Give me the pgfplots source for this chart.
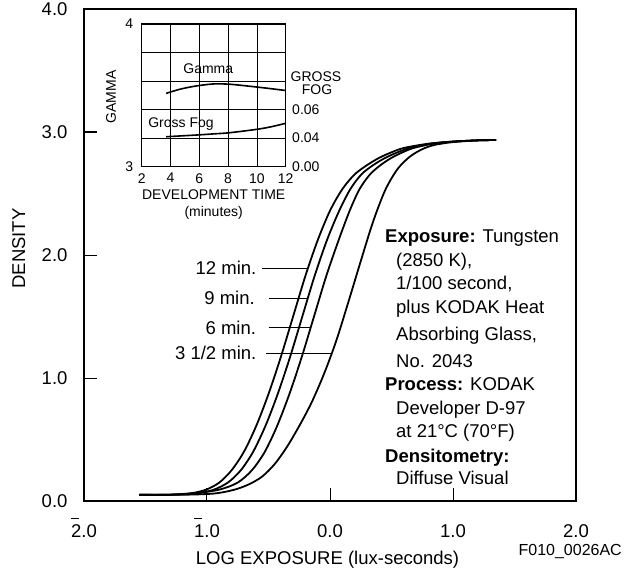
\documentclass[border=0pt]{standalone}
\usepackage{pgfplots}
\pgfplotsset{compat=1.18}
\usepackage{fontspec}
\setmainfont{Liberation Sans}
\pgfplotsset{/pgf/number format/assume math mode=true}
\newcommand\mainfs{\fontsize{18.5}{22}\selectfont}
\newcommand\insetfs{\fontsize{14}{16}\selectfont}
% digit with a bar over it (negative characteristic)
\newcommand\negd[1]{\rlap{\rule[18pt]{8pt}{1.1pt}}#1}

\begin{document}
\begin{tikzpicture}
\useasboundingbox (-84pt,-70pt) rectangle (540pt,501pt);

% main characteristic curves
\begin{axis}[
  at={(0pt,0pt)}, anchor=south west,
  width=492pt, height=492pt, scale only axis,
  xmin=-2, xmax=2, ymin=0, ymax=4,
  xtick={-2,-1,0,1,2},
  xticklabels={\negd{2}.0,\negd{1}.0,0.0,1.0,2.0},
  ytick={0,1,2,3,4},
  yticklabels={0.0,1.0,2.0,3.0,4.0},
  tick align=inside, xtick pos=bottom, ytick pos=left,
  major tick length=13pt,
  axis line style={line width=1.2pt},
  tick style={line width=1pt, black},
  x tick label style={font=\mainfs, anchor=base, yshift=-36pt},
  y tick label style={font=\mainfs, anchor=east, xshift=-13pt},
  xlabel={LOG EXPOSURE (lux-seconds)},
  ylabel={DENSITY},
  xlabel style={font=\mainfs, at={(axis description cs:0.495,0)}, anchor=base, yshift=-63pt},
  ylabel style={font=\mainfs, at={(axis description cs:-0.1199,0.513)}, anchor=base},
  curve/.style={black, no markers, smooth, line width=1.8pt},
  leader/.style={black, no markers, sharp plot, line width=0.9pt},
]
% 12 min
\addplot[curve] coordinates {
  (-1.55,0.05) (-1.35,0.05) (-1.2,0.057) (-1.1,0.068) (-1.0,0.095) (-0.9,0.15)
  (-0.8,0.25) (-0.7,0.40) (-0.6,0.61) (-0.5,0.87) (-0.4,1.17) (-0.3,1.50)
  (-0.2,1.83) (-0.1,2.12) (0,2.36) (0.1,2.535) (0.2,2.655) (0.3,2.73)
  (0.4,2.79) (0.5,2.835) (0.6,2.87) (0.8,2.905) (1.0,2.922) (1.2,2.932) (1.35,2.935)};
% 9 min
\addplot[curve] coordinates {
  (-1.55,0.05) (-1.35,0.05) (-1.2,0.055) (-1.08,0.063) (-0.95,0.09) (-0.83,0.15)
  (-0.725,0.25) (-0.625,0.40) (-0.525,0.61) (-0.425,0.87) (-0.325,1.17) (-0.225,1.50)
  (-0.125,1.83) (-0.025,2.12) (0.075,2.36) (0.165,2.535) (0.255,2.655) (0.35,2.73)
  (0.45,2.79) (0.55,2.835) (0.65,2.87) (0.82,2.905) (1.0,2.922) (1.2,2.932) (1.35,2.935)};
% 6 min
\addplot[curve] coordinates {
  (-1.55,0.05) (-1.35,0.05) (-1.2,0.055) (-1.05,0.068) (-0.89,0.095) (-0.75,0.15)
  (-0.635,0.25) (-0.53,0.40) (-0.43,0.61) (-0.33,0.87) (-0.23,1.17) (-0.13,1.50)
  (-0.03,1.83) (0.07,2.12) (0.16,2.36) (0.24,2.535) (0.325,2.655) (0.41,2.73)
  (0.5,2.79) (0.59,2.835) (0.68,2.87) (0.84,2.905) (1.0,2.922) (1.2,2.932) (1.35,2.935)};
% 3 1/2 min
\addplot[curve] coordinates {
  (-1.55,0.05) (-1.3,0.05) (-1.1,0.053) (-0.95,0.06) (-0.85,0.075) (-0.75,0.10)
  (-0.65,0.14) (-0.55,0.20) (-0.45,0.30) (-0.35,0.44) (-0.25,0.61) (-0.15,0.80)
  (-0.05,1.03) (0.05,1.30) (0.15,1.62) (0.25,1.95) (0.35,2.27) (0.45,2.53)
  (0.55,2.70) (0.65,2.80) (0.75,2.86) (0.85,2.895) (1.0,2.918) (1.2,2.932) (1.35,2.935)};

% leader lines
\addplot[leader] coordinates {(-0.55,1.894) (-0.178,1.894)};
\addplot[leader] coordinates {(-0.50,1.650) (-0.18,1.650)};
\addplot[leader] coordinates {(-0.50,1.407) (-0.158,1.407)};
\addplot[leader] coordinates {(-0.52,1.203) (0.014,1.203)};

\node[font=\mainfs, anchor=east, inner sep=0pt] at (axis cs:-0.597,1.894) {12 min.};
\node[font=\mainfs, anchor=east, inner sep=0pt] at (axis cs:-0.61,1.650) {9 min.};
\node[font=\mainfs, anchor=east, inner sep=0pt] at (axis cs:-0.60,1.407) {6 min.};
\node[font=\mainfs, anchor=east, inner sep=0pt] at (axis cs:-0.597,1.203) {3 1/2 min.};
\end{axis}

% inset: gamma
\begin{axis}[
  at={(57.7pt,334.3pt)}, anchor=south west,
  width=144pt, height=142.7pt, scale only axis,
  xmin=2, xmax=12, ymin=3, ymax=4,
  xtick={2,4,6,8,10,12},
  ytick={3,3.2,3.4,3.6,3.8,4},
  yticklabels={3,,,,,4},
  grid=major, major grid style={black, line width=0.8pt},
  major tick length=0pt,
  axis line style={line width=1pt},
  tick label style={font=\insetfs},
  x tick label style={yshift=-3pt},
  y tick label style={xshift=-5pt},
]
\addplot[black, no markers, smooth, line width=1.6pt] coordinates {
  (3.7,3.514) (4.7,3.544) (5.8,3.566) (7.0,3.58) (8.1,3.578)
  (9.3,3.566) (10.7,3.55) (12,3.534)};
\end{axis}

% inset: gross fog (right scale)
\begin{axis}[
  at={(57.7pt,334.3pt)}, anchor=south west,
  width=144pt, height=142.7pt, scale only axis,
  xmin=2, xmax=12, ymin=0.02, ymax=0.12,
  axis x line=none, axis y line*=right,
  ytick={0.02,0.04,0.06},
  yticklabels={0.00,0.04,0.06},
  major tick length=0pt,
  axis line style={line width=1pt},
  tick label style={font=\insetfs},
  y tick label style={xshift=3pt},
]
\addplot[black, no markers, smooth, line width=1.6pt] coordinates {
  (3.7,0.041) (5.8,0.0422) (7.0,0.043) (8.1,0.0438) (10,0.0462) (11,0.048) (12,0.0504)};
\end{axis}

% inset texts
\node[font=\insetfs, rotate=90] at (27pt,404pt) {GAMMA};
\node[font=\insetfs] at (232pt,424pt) {GROSS};
\node[font=\insetfs] at (233pt,411pt) {FOG};
\node[font=\insetfs] at (124.3pt,432.7pt) {Gamma};
\node[font=\insetfs] at (97pt,377pt) {Gross Fog};
\node[font=\insetfs] at (129.7pt,306pt) {DEVELOPMENT TIME};
\node[font=\insetfs] at (129.7pt,288pt) {(minutes)};

% conditions
\begin{scope}[every node/.style={font=\mainfs, anchor=base west, inner sep=0pt}]
\node at (301pt,258.7pt) {\textbf{Exposure:} Tungsten};
\node at (312pt,234.4pt) {(2850 K),};
\node at (312pt,211.7pt) {1/100 second,};
\node at (312pt,187pt) {plus KODAK Heat};
\node at (312pt,160.4pt) {Absorbing Glass,};
\node at (312pt,133.6pt) {No. 2043};
\node at (301pt,110.4pt) {\textbf{Process:} KODAK};
\node at (312pt,87pt) {Developer D-97};
\node at (312pt,63.4pt) {at 21°C (70°F)};
\node at (301pt,38.6pt) {\textbf{Densitometry:}};
\node at (312pt,17pt) {Diffuse Visual};
\end{scope}

\node[font=\fontsize{16}{18}\selectfont, anchor=base east, inner sep=0pt] at (538pt,-54pt) {F010\_0026AC};
\end{tikzpicture}
\end{document}
